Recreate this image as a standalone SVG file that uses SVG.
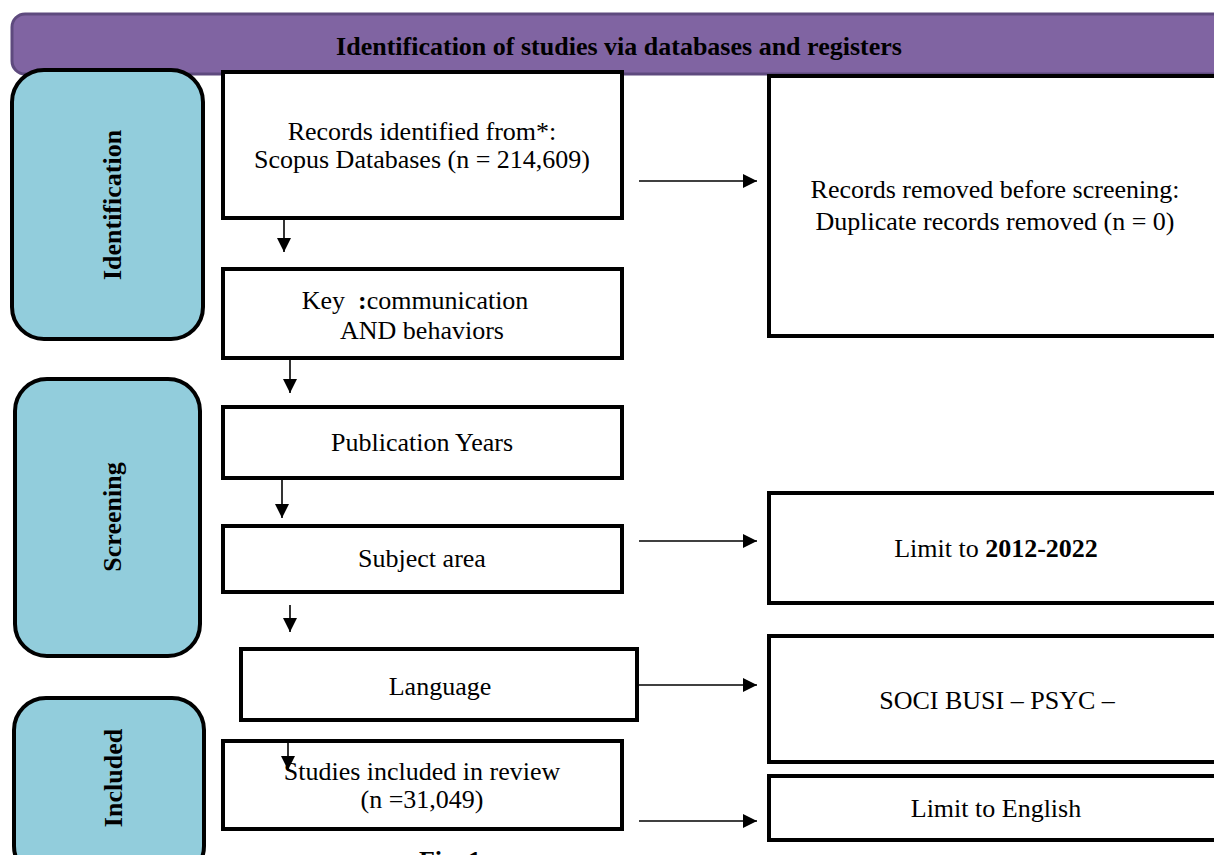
<svg xmlns="http://www.w3.org/2000/svg" width="1214" height="855" viewBox="0 0 1214 855">
<defs>
<marker id="ah" viewBox="0 0 10 10" refX="10" refY="5" markerWidth="14" markerHeight="14" markerUnits="userSpaceOnUse" orient="auto">
<path d="M0,0 L10,5 L0,10 z" fill="#000"/>
</marker>
<style>
.box{fill:#fff;stroke:#000;stroke-width:4}
.phase{fill:#92CDDC;stroke:#000;stroke-width:4}
.t{font-family:"Liberation Serif","Times New Roman",serif;font-size:26px;fill:#000;text-anchor:middle}
.b{font-weight:bold}
.c{stroke:#000;stroke-width:1.6;fill:none;marker-end:url(#ah)}
</style>
</defs>
<rect width="1214" height="855" fill="#fff"/>
<g id="banner">
<rect x="12" y="14" width="1230" height="60" rx="13" fill="#8064A2" stroke="#5E4A7E" stroke-width="3"/>
<text class="t b" x="619" y="55" font-size="26.5">Identification of studies via databases and registers</text>
</g>
<g id="phase-identification">
<rect class="phase" x="12" y="70" width="191" height="269" rx="32"/>
<text class="t b" transform="translate(121,205) rotate(-90)">Identification</text>
</g>
<g id="phase-screening">
<rect class="phase" x="15" y="379" width="185" height="277" rx="32"/>
<text class="t b" transform="translate(121,517) rotate(-90)">Screening</text>
</g>
<g id="phase-included">
<rect class="phase" x="14" y="698" width="190" height="180" rx="32"/>
<text class="t b" transform="translate(122,778) rotate(-90)">Included</text>
</g>
<g id="records">
<rect class="box" x="223" y="72" width="399" height="146"/>
<text class="t" x="422" y="140">Records identified from*:</text>
<text class="t" x="422" y="168">Scopus Databases (n = 214,609)</text>
</g>
<g id="key">
<rect class="box" x="223" y="269" width="399" height="89"/>
<text class="t" x="415" y="309" xml:space="preserve">Key  <tspan class="b">:</tspan>communication</text>
<text class="t" x="422" y="339">AND behaviors</text>
</g>
<g id="publication">
<rect class="box" x="223" y="407" width="399" height="71"/>
<text class="t" x="422" y="451">Publication Years</text>
</g>
<g id="subject">
<rect class="box" x="223" y="526" width="399" height="66"/>
<text class="t" x="422" y="567">Subject area</text>
</g>
<g id="language">
<rect class="box" x="241" y="649" width="396" height="71"/>
<text class="t" x="440" y="695">Language</text>
</g>
<g id="studies">
<rect class="box" x="223" y="741" width="399" height="88"/>
<text class="t" x="422" y="780">Studies included in review</text>
<text class="t" x="422" y="808">(n =31,049)</text>
</g>
<g id="removed">
<rect class="box" x="769" y="76" width="470" height="260"/>
<text class="t" x="995" y="198">Records removed before screening:</text>
<text class="t" x="995" y="230">Duplicate records removed (n = 0)</text>
</g>
<g id="limit-years">
<rect class="box" x="769" y="493" width="470" height="110"/>
<text class="t" x="996" y="557">Limit to <tspan class="b">2012-2022</tspan></text>
</g>
<g id="subjects">
<rect class="box" x="769" y="636" width="470" height="126"/>
<text class="t" x="997" y="709">SOCI BUSI – PSYC –</text>
</g>
<g id="limit-english">
<rect class="box" x="769" y="776" width="470" height="64"/>
<text class="t" x="996" y="817">Limit to English</text>
</g>
<g id="connectors">
<line class="c" x1="284" y1="220" x2="284" y2="252"/>
<line class="c" x1="290" y1="360" x2="290" y2="393"/>
<line class="c" x1="282" y1="480" x2="282" y2="518"/>
<line class="c" x1="290" y1="605" x2="290" y2="632"/>
<line class="c" x1="288" y1="742" x2="288" y2="770"/>
<line class="c" x1="639" y1="181" x2="757" y2="181"/>
<line class="c" x1="639" y1="541" x2="757" y2="541"/>
<line class="c" x1="639" y1="685" x2="757" y2="685"/>
<line class="c" x1="639" y1="821" x2="757" y2="821"/>
</g>
<g id="caption">
<text class="t b" x="450" y="869">Fig. 1</text>
</g>
</svg>
